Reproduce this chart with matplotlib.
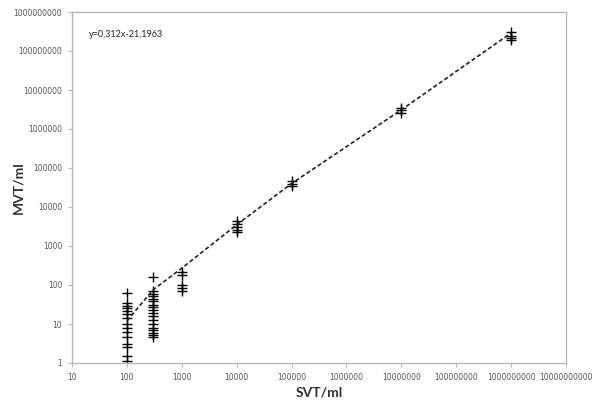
import matplotlib
matplotlib.use("Agg")
import matplotlib.pyplot as plt
from matplotlib.ticker import FixedLocator, FuncFormatter, NullLocator

# Data (SVT/ml vs MVT/ml)
svt_100 = [100] * 15
mvt_100 = [1.1, 1.5, 2.5, 3.0, 4.7, 6.3, 7.8, 10, 14, 18, 21, 25, 29, 34, 63]
svt_300 = [300] * 18
mvt_300 = [4.6, 5.2, 6.0, 7.0, 8.0, 10, 13, 16, 19, 23, 27, 30, 38, 45, 52, 60, 72, 163]
svt_1000 = [1000] * 5
mvt_1000 = [72, 85, 100, 180, 220]
svt_1e4 = [1e4] * 5
mvt_1e4 = [2300, 2600, 3000, 3600, 4400]
svt_1e5 = [1e5] * 3
mvt_1e5 = [35000, 40000, 46000]
svt_1e7 = [1e7] * 3
mvt_1e7 = [2.6e6, 3.0e6, 3.4e6]
svt_1e9 = [1e9] * 4
mvt_1e9 = [1.9e8, 2.1e8, 2.4e8, 3.0e8]

trend_x = [100, 300, 1000, 1e4, 1e5, 1e7, 1e9]
trend_y = [12, 75, 270, 3500, 40000, 3.1e6, 2.9e8]

equation = "y=0,312x-21,1963"
x_ticks = [10 ** k for k in range(1, 11)]
y_ticks = [10 ** k for k in range(0, 10)]

fig = plt.figure(figsize=(5.93, 4.03), dpi=100)
ax = fig.add_axes([72 / 593, 1 - 363 / 403, (566 - 72) / 593, (363 - 12) / 403])

xs = svt_100 + svt_300 + svt_1000 + svt_1e4 + svt_1e5 + svt_1e7 + svt_1e9
ys = mvt_100 + mvt_300 + mvt_1000 + mvt_1e4 + mvt_1e5 + mvt_1e7 + mvt_1e9
ax.plot(xs, ys, linestyle="none", marker="+", color="black", markersize=7, markeredgewidth=1.0)
ax.plot(trend_x, trend_y, linestyle=(0, (2.5, 1.5)), color="#222222", linewidth=1.2)

ax.set_xscale("log")
ax.set_yscale("log")
ax.set_xlim(10, 1e10)
ax.set_ylim(1, 1e9)
ax.xaxis.set_major_locator(FixedLocator(x_ticks))
ax.yaxis.set_major_locator(FixedLocator(y_ticks))
ax.xaxis.set_minor_locator(NullLocator())
ax.yaxis.set_minor_locator(NullLocator())
fmt = FuncFormatter(lambda v, p: "%d" % round(v))
ax.xaxis.set_major_formatter(fmt)
ax.yaxis.set_major_formatter(fmt)

for s in ax.spines.values():
    s.set_color("#b8b8b8")
    s.set_linewidth(1.0)
ax.tick_params(axis="both", which="major", length=3, width=0.8, color="#b8b8b8",
               labelsize=5.5, labelcolor="#555555", direction="out", pad=4)

ax.set_xlabel("SVT/ml", fontsize=10, fontweight="bold", family=["Lato", "DejaVu Sans"], color="#333333")
ax.set_ylabel("MVT/ml", fontsize=10, fontweight="bold", family=["Lato", "DejaVu Sans"], color="#333333")
ax.xaxis.set_label_coords(0.5, -0.083)
ax.yaxis.set_label_coords(-0.109, 0.5)
ax.xaxis.label.set_va("center")
ax.yaxis.label.set_va("center")

ax.text(0.035, 0.935, equation, transform=ax.transAxes, fontsize=6.5, color="#222222",
        family=["Lato", "DejaVu Sans"], ha="left", va="center")

fig.savefig("out.png", dpi=100)
